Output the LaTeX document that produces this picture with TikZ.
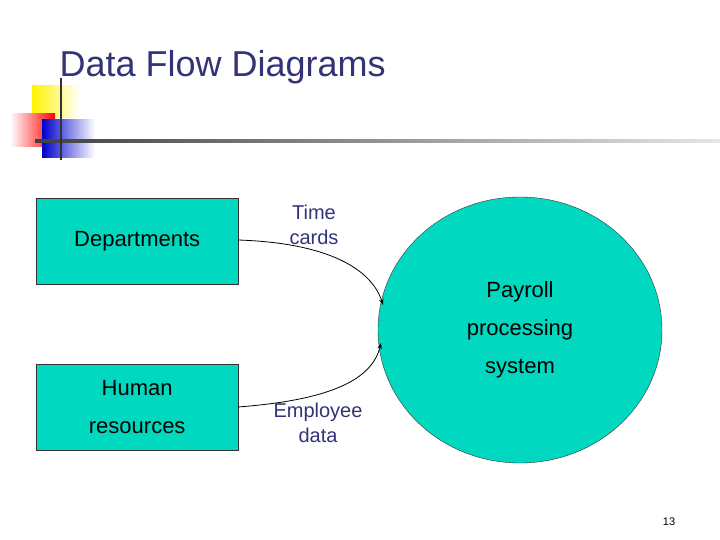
\documentclass[tikz,border=0pt]{standalone}
\usepackage{fontspec}
\setmainfont{Liberation Sans}
\usetikzlibrary{arrows.meta,shapes.geometric}
\definecolor{tc}{HTML}{333377}
\definecolor{fillc}{HTML}{00D9C0}
\begin{document}
\begin{tikzpicture}[x=1pt,y=-1pt,
  box/.style={draw=black!80,fill=fillc,minimum width=202pt,minimum height=86pt,anchor=north west,inner sep=0pt,align=center,font=\fontsize{22}{38}\selectfont},
  lbl/.style={text=tc,align=center,font=\fontsize{20}{25}\selectfont},
  flow/.style={thick,-{Stealth[length=6pt]}}]
\useasboundingbox (0,0) rectangle (720,540);
\fill[white] (0,0) rectangle (720,540);
% logo
\shade[left color=yellow!90!orange,right color=white] (32,86) rectangle (80,118);
\shade[left color=white,right color=red] (10,114) rectangle (55,147);
\shade[left color=blue!80!black,right color=white] (42,120) rectangle (95,158);
\shade[left color=black!75,right color=black!10] (35,140) rectangle (720,143);
\draw[line width=2.5pt,black!80] (61,78) -- (61,160);
\node[text=tc,anchor=west,font=\fontsize{36}{40}\selectfont] (title) at (56,67) {Data Flow Diagrams};
\node[box] (dep) at (36,198) {Departments};
\node[box] (hr) at (36,364) {Human\\resources};
\node[draw=black!80,fill=fillc,ellipse,minimum width=284pt,minimum height=266pt,inner sep=0pt,align=center,font=\fontsize{22}{38}\selectfont] (pay) at (520,330) {Payroll\\processing\\system};
\node[lbl] (tc) at (314,225) {Time\\cards};
\node[lbl] (ed) at (318,423) {Employee\\data};
\coordinate (a1) at (238,240); \coordinate (a2) at (383,305);
\coordinate (b1) at (238,407); \coordinate (b2) at (381,343);
\draw[flow] (a1) .. controls (330,243) and (372,270) .. (a2);
\draw[flow] (b1) .. controls (330,400) and (372,380) .. (b2);
\node[font=\fontsize{11}{12}\selectfont] (pg) at (669,522) {13};
\end{tikzpicture}
\end{document}
